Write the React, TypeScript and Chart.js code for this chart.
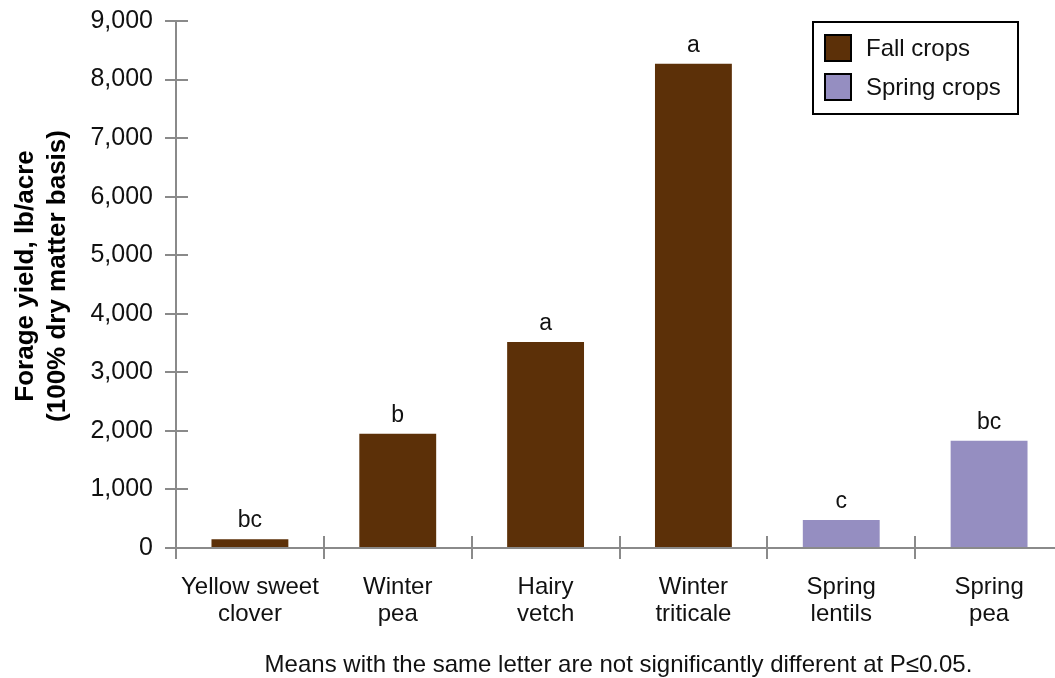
import React, { useEffect, useRef } from "react";
import { Chart, registerables } from "chart.js";
Chart.register(...registerables);

const categories: string[][] = [
  ["Yellow sweet", "clover"],
  ["Winter", "pea"],
  ["Hairy", "vetch"],
  ["Winter", "triticale"],
  ["Spring", "lentils"],
  ["Spring", "pea"],
];
const fallValues: (number | null)[] = [150, 1950, 3520, 8270, null, null];
const springValues: (number | null)[] = [null, null, null, null, 480, 1830];
const letters: string[] = ["bc", "b", "a", "a", "c", "bc"];
const seriesNames: string[] = ["Fall crops", "Spring crops"];
const yTitle: string[] = ["Forage yield, lb/acre", "(100% dry matter basis)"];
const footnote = "Means with the same letter are not significantly different at P\u22640.05.";

const FALL = "#5c3008";
const SPRING = "#958ec1";
const AXIS = "#8a8a8a";
const FONT = "'Liberation Sans', Arial, Helvetica, sans-serif";

const innerTicksPlugin = {
  id: "innerTicks",
  beforeDatasetsDraw(chart: any) {
    const ctx = chart.ctx;
    const area = chart.chartArea;
    const ys = chart.scales.y;
    const xs = chart.scales.x;
    ctx.save();
    ctx.strokeStyle = AXIS;
    ctx.lineWidth = 2;
    ctx.beginPath();
    ys.ticks.forEach((t: any) => {
      const y = Math.round(ys.getPixelForValue(t.value));
      ctx.moveTo(area.left, y);
      ctx.lineTo(area.left + 12, y);
    });
    for (let i = 1; i < categories.length; i++) {
      const x = Math.round((xs.getPixelForValue(i - 1) + xs.getPixelForValue(i)) / 2);
      ctx.moveTo(x, area.bottom);
      ctx.lineTo(x, area.bottom - 12);
    }
    ctx.stroke();
    ctx.restore();
  },
};

const overlayPlugin = {
  id: "overlay",
  afterDraw(chart: any) {
    const ctx = chart.ctx;
    const area = chart.chartArea;
    ctx.save();
    // y axis title
    ctx.fillStyle = "#000";
    ctx.font = `bold 26px ${FONT}`;
    ctx.textAlign = "center";
    ctx.textBaseline = "alphabetic";
    const baseX = [33, 65];
    yTitle.forEach((t, i) => {
      ctx.save();
      ctx.translate(baseX[i], 276);
      ctx.rotate(-Math.PI / 2);
      ctx.fillText(t, 0, 0);
      ctx.restore();
    });
    // letters above bars
    ctx.fillStyle = "#111";
    ctx.font = `23px ${FONT}`;
    ctx.textAlign = "center";
    ctx.textBaseline = "alphabetic";
    letters.forEach((l, i) => {
      for (let d = 0; d < chart.data.datasets.length; d++) {
        const v = chart.data.datasets[d].data[i];
        if (v == null) continue;
        const el = chart.getDatasetMeta(d).data[i];
        ctx.fillText(l, el.x, el.y - 12);
      }
    });
    // footnote
    ctx.font = `24px ${FONT}`;
    ctx.textBaseline = "alphabetic";
    ctx.fillText(footnote, (area.left + area.right) / 2 - 1, 672);
    // legend
    const lx = 813, ly = 22, lw = 205, lh = 92;
    ctx.strokeStyle = "#000";
    ctx.lineWidth = 2;
    ctx.fillStyle = "#fff";
    ctx.fillRect(lx, ly, lw, lh);
    ctx.strokeRect(lx, ly, lw, lh);
    const colors = [FALL, SPRING];
    seriesNames.forEach((name, i) => {
      const y = 48 + i * 39;
      ctx.fillStyle = colors[i];
      ctx.fillRect(825, y - 13, 26, 26);
      ctx.strokeRect(825, y - 13, 26, 26);
      ctx.fillStyle = "#111";
      ctx.font = `24px ${FONT}`;
      ctx.textAlign = "left";
      ctx.textBaseline = "alphabetic";
      ctx.fillText(name, 866, y + 8);
    });
    ctx.restore();
  },
};

export default function App() {
  const ref = useRef<HTMLCanvasElement | null>(null);
  useEffect(() => {
    if (!ref.current) return;
    const chart = new Chart(ref.current, {
      type: "bar",
      data: {
        labels: categories,
        datasets: [
          { label: seriesNames[0], data: fallValues, backgroundColor: FALL, grouped: false, barPercentage: 0.52, categoryPercentage: 1 } as any,
          { label: seriesNames[1], data: springValues, backgroundColor: SPRING, grouped: false, barPercentage: 0.52, categoryPercentage: 1 } as any,
        ],
      },
      options: {
        responsive: false,
        animation: false,
        devicePixelRatio: 1,
        layout: { padding: { top: 21, right: 12, left: 0, bottom: 0 } },
        plugins: { legend: { display: false }, tooltip: { enabled: false } },
        scales: {
          x: {
            afterFit: (s: any) => { s.height = 130; },
            border: { color: AXIS, width: 2 },
            grid: { drawOnChartArea: false, color: AXIS, lineWidth: 2, tickLength: 11, offset: true },
            ticks: { color: "#111", font: { family: FONT, size: 24, lineHeight: 1.12 }, padding: 15, maxRotation: 0, autoSkip: false },
          },
          y: {
            min: 0,
            max: 9000,
            afterFit: (s: any) => { s.width = 176; },
            border: { color: AXIS, width: 2 },
            grid: { drawOnChartArea: false, color: AXIS, lineWidth: 2, tickLength: 11 },
            ticks: { stepSize: 1000, color: "#111", font: { family: FONT, size: 25, lineHeight: 0.7 }, padding: 12 },
          },
        },
      },
      plugins: [innerTicksPlugin, overlayPlugin],
    });
    return () => chart.destroy();
  }, []);
  return (
    <div style={{ position: "fixed", left: 0, top: 0, width: 1055, height: 678, overflow: "hidden", background: "#fff" }}>
      <canvas ref={ref} width={1075} height={678} style={{ display: "block", width: 1075, height: 678 }} />
    </div>
  );
}
